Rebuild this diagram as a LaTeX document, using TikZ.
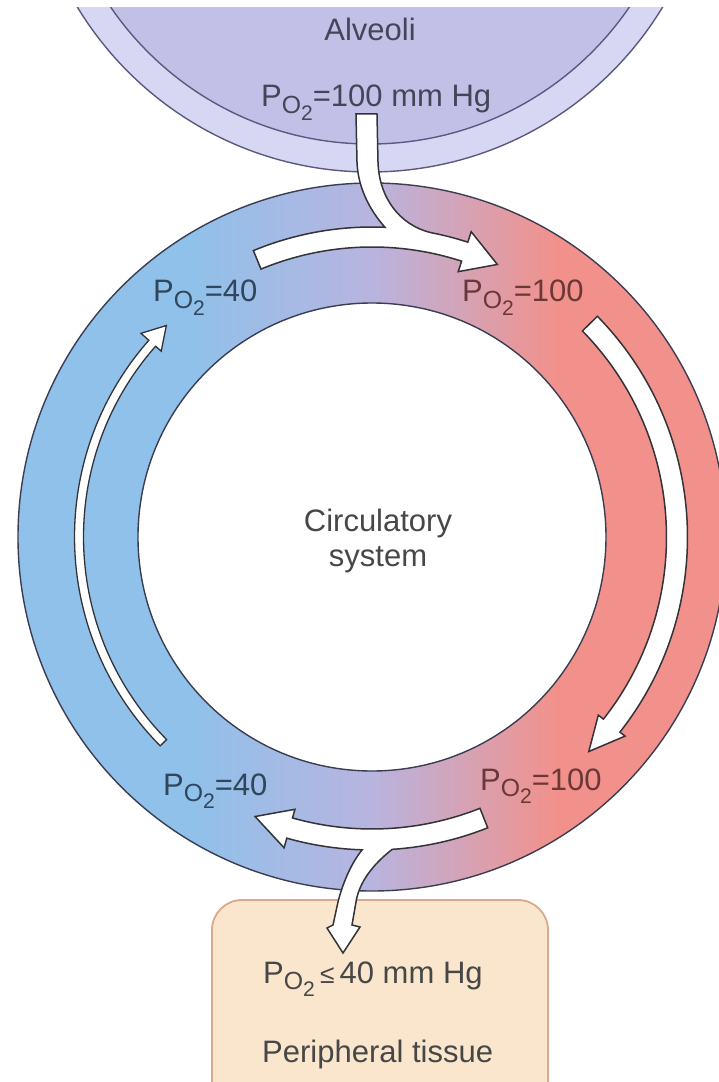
\documentclass[tikz,border=0pt]{standalone}
\usepackage{fontspec}
\setmainfont{Liberation Sans}
\definecolor{ringblue}{HTML}{8FC1EA}
\definecolor{ringmid}{HTML}{B8B4DF}
\definecolor{ringred}{HTML}{F2918B}
\definecolor{ringedge}{HTML}{3B3E52}
\definecolor{alvband}{HTML}{D8D7F3}
\definecolor{alvin}{HTML}{C3C0E7}
\definecolor{alvedge}{HTML}{5A5A80}
\definecolor{arrowedge}{HTML}{333338}
\definecolor{boxfill}{HTML}{FAE6CC}
\definecolor{boxedge}{HTML}{D9A98F}
\definecolor{txtblue}{HTML}{30465C}
\definecolor{txtred}{HTML}{6B3838}
\definecolor{txtalv}{HTML}{45455A}
\definecolor{txtgray}{HTML}{474747}
\pgfdeclarehorizontalshading{ringshade}{100bp}{color(0bp)=(ringblue); color(37bp)=(ringblue); color(50bp)=(ringmid); color(63bp)=(ringred); color(100bp)=(ringred)}
\newcommand\poo{P\raisebox{-0.22em}{\scalebox{0.8}{O}}\raisebox{-0.45em}{\scalebox{0.68}{2}}}
\begin{document}
\begin{tikzpicture}[x=1pt,y=1pt,
  ringline/.style={draw=ringedge,line width=1.4pt},
  alvline/.style={draw=alvedge,line width=1.4pt},
  flow/.style={fill=white,draw=arrowedge,line width=1.5pt,line join=miter},
  lbl/.style={anchor=base west,inner sep=0pt,font=\fontsize{31}{37}\selectfont},
  tissue/.style={fill=boxfill,draw=boxedge,line width=1.8pt,rounded corners=30pt}]
\useasboundingbox (-372,-545) rectangle (346,537);
\fill[white] (-372,-545) rectangle (346,537);
% alveoli
\begin{scope}
\clip (-372,-545) rectangle (346,529);
\fill[alvband] (-2,707) circle (342);
\fill[alvin] (-2,707) circle (314);
\draw[alvline] (-2,707) circle (342);
\draw[alvline] (-2,707) circle (314);
\end{scope}
% circulatory ring
\path[shading=ringshade,even odd rule] (0,0) circle (354) (0,0) circle (234);
\draw[ringline] (0,0) circle (354);
\draw[ringline] (0,0) circle (234);
% peripheral tissue box
\draw[tissue] (-160,-363) rectangle (176,-620);
% top arrow (from alveoli, joining flow)
\draw[flow] (112.5:310) arc[start angle=112.5,end angle=87.6,radius=310]
  .. controls (2,322) and (-14,345) .. (-15,375) -- (-16,423) -- (5,423) -- (6,375)
  .. controls (7,340) and (27,312) .. (79:310)
  arc[start angle=79,end angle=72,radius=310] -- (72:321) -- (65.3:300) -- (72:279) -- (72:290)
  arc[start angle=72,end angle=112.5,radius=290] -- cycle;
% right arrow
\draw[flow] (44.4:294.5) arc[start angle=44.4,end angle=-38.2,radius=294.5]
  -- (-38.2:288) -- (-44.7:305) -- (-38.2:322) -- (-38.2:315.5)
  arc[start angle=-38.2,end angle=44.4,radius=315.5] -- cycle;
% bottom arrow (flow and branch to tissue)
\draw[flow] (-68.3:313) arc[start angle=-68.3,end angle=-86.3,radius=313]
  .. controls (8,-322) and (-12,-340) .. (-16,-365) -- (-20,-388) -- (-12,-390) -- (-29,-416)
  -- (-45,-391) -- (-39,-388) -- (-34,-365) .. controls (-29,-345) and (-20,-325) .. (-91.8:313)
  arc[start angle=-91.8,end angle=-105.8,radius=313] -- (-105.8:323) -- (-112.7:303)
  -- (-105.8:283) -- (-105.8:292) arc[start angle=-105.8,end angle=-68.3,radius=292] -- cycle;
% left thin arrow
\draw[flow,line width=1.3pt] (224.6:288.5) arc[start angle=224.6,end angle=138.6,radius=288.5]
  -- (138.6:281) -- (134.2:295) -- (138.6:308) -- (138.6:297.5)
  arc[start angle=138.6,end angle=224.6,radius=297.5] -- cycle;
% texts
\node[lbl,anchor=base,text=txtalv] (alv) at (-2,496) {Alveoli};
\node[lbl,text=txtalv] (alvp) at (-111,430) {\poo=100 mm Hg};
\node[lbl,text=txtblue] (tl) at (-219,235) {\poo=40};
\node[lbl,text=txtred] (tr) at (90,235) {\poo=100};
\node[lbl,text=txtblue] (bl) at (-209,-258) {\poo=40};
\node[lbl,text=txtred] (br) at (108,-253) {\poo=100};
\node[lbl,anchor=north,align=center,text=txtgray,font=\fontsize{31}{35}\selectfont] (circ) at (6,28) {Circulatory\\system};
\node[lbl,text=txtgray] (tp) at (-109,-446) {\poo\,{\scalebox{0.85}{≤}}\,40 mm Hg};
\node[lbl,text=txtgray] (tn) at (-110,-525) {Peripheral tissue};
\end{tikzpicture}
\end{document}
